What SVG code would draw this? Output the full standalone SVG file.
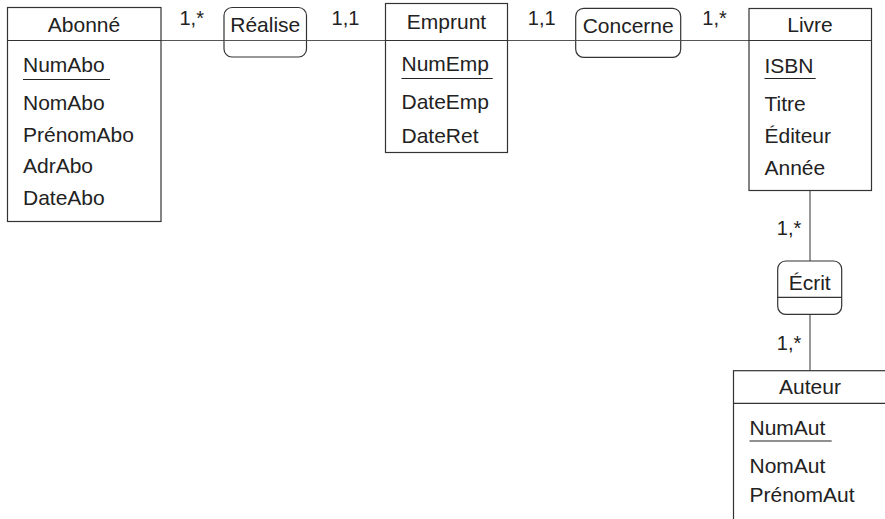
<svg xmlns="http://www.w3.org/2000/svg" width="885" height="519" viewBox="0 0 885 519">
<style>
  .box { fill: #fff; stroke: #333; stroke-width: 1.2; }
  .rel { fill: #fff; stroke: #333; stroke-width: 1.2; }
  .sep { stroke: #333; stroke-width: 1.2; }
  .conn { stroke: #555; stroke-width: 1.2; fill: none; }
  .uline { stroke: #222; stroke-width: 1.2; }
  text { font-family: "Liberation Sans", Arial, sans-serif; font-size: 21px; fill: #222; }
  .t { text-anchor: middle; }
  .card { text-anchor: middle; font-size: 20px; }
</style>
<rect width="885" height="519" fill="#fff"/>
<g id="connectors">
  <line class="conn" x1="161" y1="40.5" x2="385.5" y2="40.5"/>
  <line class="conn" x1="507.5" y1="40.5" x2="749" y2="40.5"/>
  <line class="conn" x1="810" y1="190.5" x2="810" y2="261"/>
  <line class="conn" x1="810" y1="314.3" x2="810" y2="370.7"/>
  <text class="card" x="191.7" y="25">1,*</text>
  <text class="card" x="345.5" y="25">1,1</text>
  <text class="card" x="541.7" y="25">1,1</text>
  <text class="card" x="714.5" y="25">1,*</text>
  <text class="card" x="789" y="235">1,*</text>
  <text class="card" x="789" y="350">1,*</text>
</g>
<g id="abonne">
  <rect class="box" x="7.5" y="7.5" width="153.5" height="214"/>
  <line class="sep" x1="7.5" y1="40.5" x2="161" y2="40.5"/>
  <text class="t" x="84" y="31.5">Abonné</text>
  <text x="23" y="72">NumAbo</text>
  <line class="uline" x1="23" y1="79.5" x2="110" y2="79.5"/>
  <text x="23" y="109.5">NomAbo</text>
  <text x="23" y="141.5">PrénomAbo</text>
  <text x="23" y="173">AdrAbo</text>
  <text x="23" y="204.5">DateAbo</text>
</g>
<g id="realise">
  <rect class="rel" x="224" y="7.5" width="82.5" height="49.5" rx="8"/>
  <line class="conn" x1="224" y1="40.5" x2="306.5" y2="40.5"/>
  <text class="t" x="265.3" y="32">Réalise</text>
</g>
<g id="emprunt">
  <rect class="box" x="385.5" y="3.5" width="122" height="149"/>
  <line class="sep" x1="385.5" y1="40.5" x2="507.5" y2="40.5"/>
  <text class="t" x="446.5" y="28.5">Emprunt</text>
  <text x="401.5" y="71">NumEmp</text>
  <line class="uline" x1="401.5" y1="78.5" x2="492.7" y2="78.5"/>
  <text x="401.5" y="109">DateEmp</text>
  <text x="401.5" y="142.5">DateRet</text>
</g>
<g id="concerne">
  <rect class="rel" x="575.7" y="8.3" width="105" height="49" rx="8"/>
  <line class="conn" x1="575.7" y1="40.5" x2="680.7" y2="40.5"/>
  <text class="t" x="628.2" y="32.5">Concerne</text>
</g>
<g id="livre">
  <rect class="box" x="749" y="8.5" width="122.5" height="182"/>
  <line class="sep" x1="749" y1="40.5" x2="871.5" y2="40.5"/>
  <text class="t" x="810" y="31.5">Livre</text>
  <text x="764.5" y="72.5">ISBN</text>
  <line class="uline" x1="764.5" y1="78.5" x2="815.7" y2="78.5"/>
  <text x="764.5" y="111">Titre</text>
  <text x="764.5" y="143">Éditeur</text>
  <text x="764.5" y="175">Année</text>
</g>
<g id="ecrit">
  <rect class="rel" x="777.7" y="261" width="64" height="53.3" rx="8"/>
  <line class="sep" x1="777.7" y1="297.3" x2="841.7" y2="297.3"/>
  <text class="t" x="809.7" y="290">Écrit</text>
</g>
<g id="auteur">
  <rect class="box" x="733.5" y="370.7" width="153.5" height="200"/>
  <line class="sep" x1="733.5" y1="403.3" x2="887" y2="403.3"/>
  <text class="t" x="810" y="394">Auteur</text>
  <text x="749.5" y="435">NumAut</text>
  <line class="uline" x1="749.5" y1="441" x2="831.7" y2="441"/>
  <text x="749.5" y="472.7">NomAut</text>
  <text x="749.5" y="502">PrénomAut</text>
</g>
</svg>
